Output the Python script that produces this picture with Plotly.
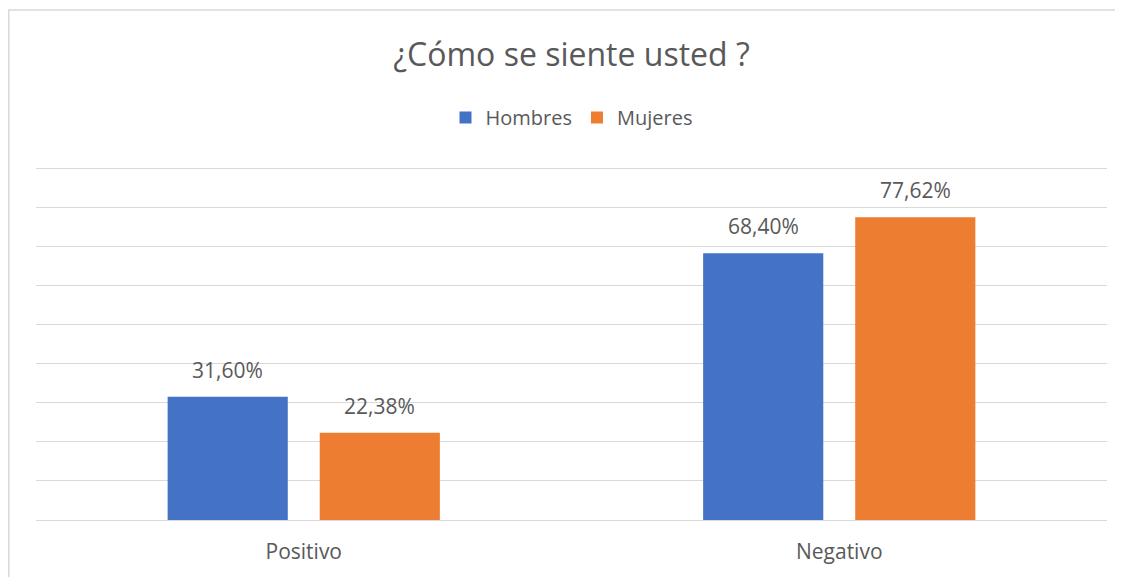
import plotly.graph_objects as go

# Datos del grafico
categorias = ["Positivo", "Negativo"]
hombres = [0.3160, 0.6840]
mujeres = [0.2238, 0.7762]
etiquetas_hombres = ["31,60%", "68,40%"]
etiquetas_mujeres = ["22,38%", "77,62%"]

azul = "#4472C4"
naranja = "#ED7D31"
gris_texto = "#595959"
gris_linea = "#D9D9D9"
fuente = "Open Sans"

fig = go.Figure()

fig.add_trace(go.Bar(name="Hombres", x=categorias, y=hombres,
                     marker=dict(color=azul, line=dict(width=0))))
fig.add_trace(go.Bar(name="Mujeres", x=categorias, y=mujeres,
                     marker=dict(color=naranja, line=dict(width=0))))

# Etiquetas de datos encima de cada barra
for cat, val, txt in zip(categorias, hombres, etiquetas_hombres):
    fig.add_annotation(x=cat, y=val, text=txt, showarrow=False,
                       xshift=-76, yshift=27,
                       font=dict(size=21, color=gris_texto, family=fuente))
for cat, val, txt in zip(categorias, mujeres, etiquetas_mujeres):
    fig.add_annotation(x=cat, y=val, text=txt, showarrow=False,
                       xshift=76, yshift=27,
                       font=dict(size=21, color=gris_texto, family=fuente))

# Marco del grafico
fig.add_shape(type="rect", xref="paper", yref="paper",
              x0=-0.0254, x1=1.05, y0=-0.3, y1=1.4445,
              line=dict(color=gris_linea, width=1.5), layer="below")

fig.update_layout(
    width=1115, height=569,
    margin=dict(l=28, r=16, t=159, b=54),
    paper_bgcolor="white", plot_bgcolor="white",
    barmode="group", bargap=0.432, bargroupgap=0.21,
    font=dict(family=fuente, color=gris_texto, size=21),
    title=dict(text="¿Cómo se siente usted ?", x=0.5, xref="paper",
               xanchor="center", y=1 - 47 / 569, yref="container",
               yanchor="middle",
               font=dict(size=32, color=gris_texto, family=fuente)),
    legend=dict(orientation="h", x=0.5, xanchor="center", y=1.1404,
                yanchor="middle", itemwidth=30,
                font=dict(size=20, color=gris_texto, family=fuente)),
    showlegend=True,
)

fig.update_xaxes(showline=False, ticks="", ticklabelstandoff=17,
                 tickfont=dict(size=21, color=gris_texto, family=fuente))
fig.update_yaxes(range=[0, 0.905], dtick=0.1, showticklabels=False,
                 showgrid=True, gridcolor=gris_linea, gridwidth=1.3,
                 zeroline=True, zerolinecolor=gris_linea, zerolinewidth=1.3,
                 showline=False)

fig.write_html("out.html")
